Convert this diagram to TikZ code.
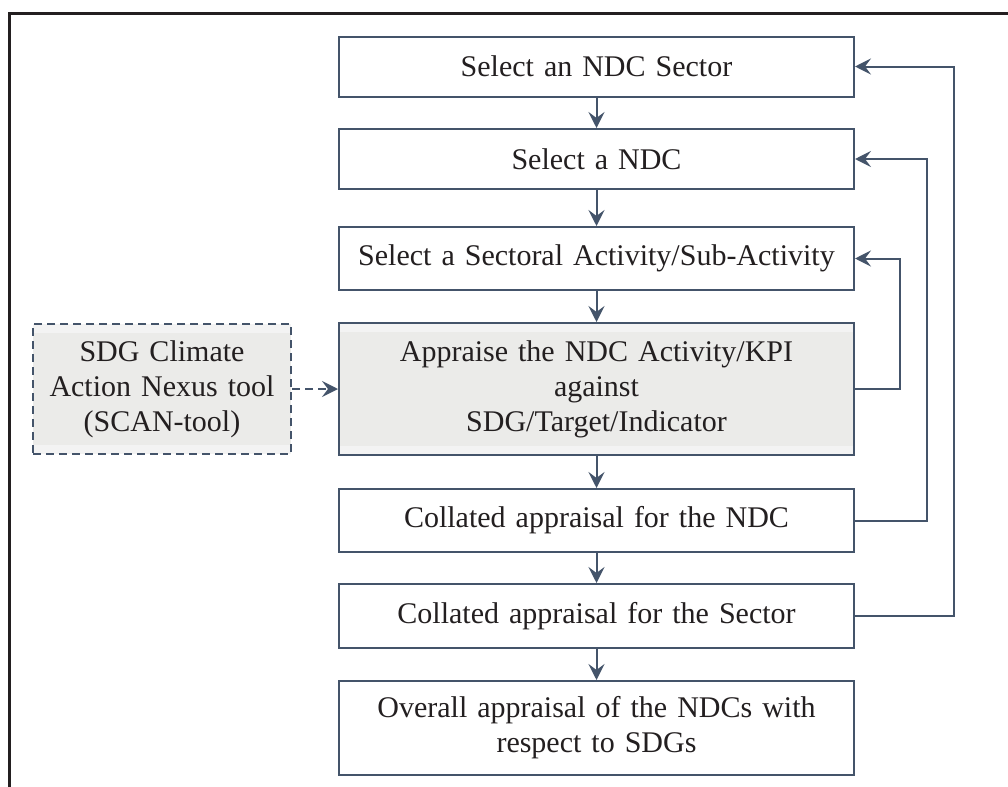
\documentclass[tikz,border=0pt]{standalone}
\usepackage{fontspec}
\setmainfont{Liberation Serif}
\usepackage{xcolor}
\usepackage{tikz}
\usetikzlibrary{arrows.meta}
\definecolor{slate}{HTML}{44546A}
\definecolor{inkgray}{HTML}{231F20}
\definecolor{boxgray}{HTML}{EBEBE9}
\definecolor{bandgray}{HTML}{F3F3F3}
\tikzset{
  ndcbox/.style={rectangle, draw=slate, line width=1pt, fill=white, text=inkgray,
                 minimum width=257.5pt, minimum height=#1, text width=250pt,
                 align=center, inner sep=0pt, font=\fontsize{15}{17.5}\selectfont},
  ndcbox/.default=30pt,
  banded/.style={fill=boxgray, path picture={
      \fill[bandgray] (path picture bounding box.north west)
        rectangle ([yshift=-4.5pt]path picture bounding box.north east);
      \fill[bandgray] (path picture bounding box.south west)
        rectangle ([yshift=4.5pt]path picture bounding box.south east);}},
  flow/.style={draw=slate, line width=1pt,
               -{Stealth[length=8pt, width=8pt, inset=3pt]}}}

\begin{document}
\begin{tikzpicture}[x=0.5pt, y=-0.5pt]
  \useasboundingbox (0,0) rectangle (1008,787);
  % outer frame, runs off the page at right and bottom
  \draw[inkgray, line width=1.5pt] (9.5,800) -- (9.5,13.5) -- (1020,13.5);
  % main column of steps
  \node[ndcbox] (sector) at (596.5,66.5) {Select an NDC Sector};
  \node[ndcbox] (ndc) at (596.5,159) {Select a NDC};
  \node[ndcbox=31.5pt] (act) at (596.5,258.5) {Select a Sectoral Activity/Sub-Activity};
  \node[ndcbox=66pt, banded] (appr) at (596.5,389)
    {Appraise the NDC Activity/KPI\\ against\\ SDG/Target/Indicator};
  \node[ndcbox=31.5pt] (collndc) at (596.5,520.5) {Collated appraisal for the NDC};
  \node[ndcbox=32pt] (collsec) at (596.5,616) {Collated appraisal for the Sector};
  \node[ndcbox=47pt] (overall) at (596.5,728)
    {Overall appraisal of the NDCs with\\ respect to SDGs};
  % the tool on the left
  \node[ndcbox=65pt, banded, minimum width=129pt, text width=125pt,
        draw=slate, dash pattern=on 4pt off 2.5pt, line width=1pt] (scan) at (162,389)
    {SDG Climate\\ Action Nexus tool\\ (SCAN-tool)};
  \draw[flow, dash pattern=on 4pt off 2.5pt] (scan) -- (appr);
  % downward steps
  \foreach \a/\b in {sector/ndc, ndc/act, act/appr, appr/collndc,
                     collndc/collsec, collsec/overall}{
    \draw[flow] (\a) -- (\b);}
  % loops back up on the right
  \draw[flow] (appr.east) -- ++(45,0) |- (act.east);
  \draw[flow] (collndc.east) -- ++(72,0) |- (ndc.east);
  \draw[flow] (collsec.east) -- ++(99,0) |- (sector.east);
\end{tikzpicture}
\end{document}
